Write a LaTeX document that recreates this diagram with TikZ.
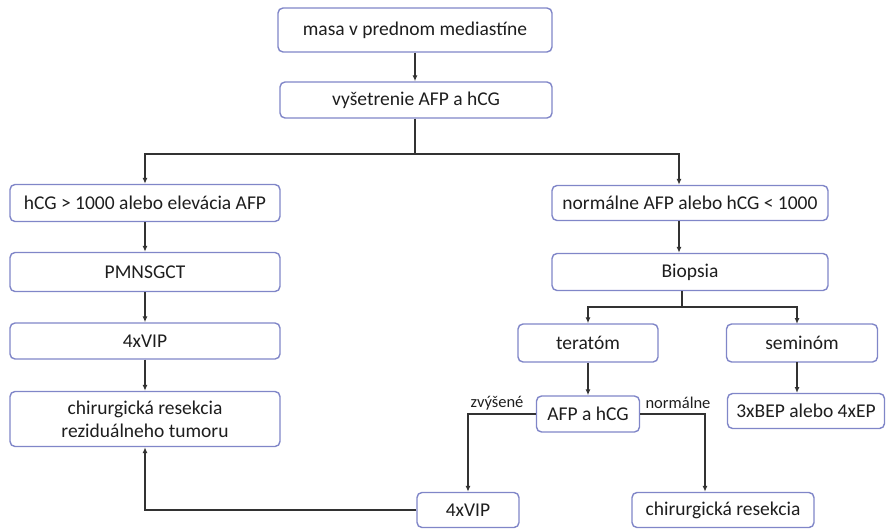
\documentclass[tikz,border=0pt]{standalone}
\usepackage{fontspec}
\setmainfont{Carlito}
\usetikzlibrary{arrows.meta}
\definecolor{boxline}{RGB}{128,134,200}
\definecolor{conn}{RGB}{50,50,50}
\definecolor{txt}{RGB}{30,30,30}
\begin{document}
\begin{tikzpicture}[x=1pt, y=-1pt,
  box/.style={draw=boxline, line width=1.4pt, rounded corners=5pt, fill=white,
    text=txt, inner sep=0pt, minimum height=#1, font=\fontsize{19.5}{23}\selectfont, align=center},
  box/.default=36pt,
  arr/.style={draw=conn, line width=1.4pt, -{Latex[length=6pt,width=5pt]}},
  ln/.style={draw=conn, line width=1.4pt},
  lbl/.style={text=txt, inner sep=0pt, font=\fontsize{16.5}{19}\selectfont}]
\useasboundingbox (0,0) rectangle (892,528);
\node[box=44pt, minimum width=274pt] (P_0_0) at (415,30) {masa v prednom mediastíne};
\node[box, minimum width=272pt] (P_0_1) at (416,100) {vyšetrenie AFP a hCG};
\coordinate (S_0) at (415,154);
\coordinate (S_1) at (679,154);
\node[box=37pt, minimum width=270pt] (P_1_0) at (145,203) {hCG > 1000 alebo elevácia AFP};
\node[box=35pt, minimum width=276pt] (P_2_0) at (690,203) {normálne AFP alebo hCG < 1000};
\draw[arr] (P_0_0) -- (P_0_0 |- P_0_1.north);
\draw[ln] (P_0_0 |- P_0_1.south) -- (S_0);
\draw[arr] (S_0) -| (P_1_0);
\draw[arr] (S_0) -- (S_1) -- (S_1 |- P_2_0.north);
\node[box=39pt, minimum width=270pt] (P_1_1) at (145,272) {PMNSGCT};
\draw[arr] (P_1_0) -- (P_1_1);
\node[box=37pt, minimum width=276pt] (P_2_1) at (690,272) {Biopsia};
\draw[arr] (S_1 |- P_2_0.south) -- (S_1 |- P_2_1.north);
\node[box, minimum width=270pt] (P_1_2) at (145,341) {4xVIP};
\draw[arr] (P_1_1) -- (P_1_2);
\node[box=55pt, minimum width=270pt] (P_1_3) at (145,419) {chirurgická resekcia\\reziduálneho tumoru};
\draw[arr] (P_1_2) -- (P_1_3);
\coordinate (S_2) at (682,307);
\node[box=38pt, minimum width=140pt] (P_2_2) at (588,343) {teratóm};
\node[box=38pt, minimum width=151pt] (P_3_2) at (802,343) {seminóm};
\draw[ln] (S_2 |- P_2_1.south) -- (S_2);
\draw[arr] (S_2) -| (P_2_2);
\draw[arr] (S_2) -- (797,307) -- (797,324);
\node[box, minimum width=103pt] (P_2_3) at (588,414) {AFP a hCG};
\draw[arr] (P_2_2) -- (P_2_3);
\node[box=35pt, minimum width=157pt] (P_3_3) at (806,411) {3xBEP alebo 4xEP};
\draw[arr] (797,362) -- (797,393);
\node[box=35pt, minimum width=102pt] (P_2_4) at (468,510) {4xVIP};
\node[box=35pt, minimum width=182pt] (P_3_4) at (723,510) {chirurgická resekcia};
\coordinate (S_3) at (705,414);
\draw[arr] (P_2_3.west) -| (P_2_4);
\draw[arr] (P_2_3.east) -- (S_3) -- (S_3 |- P_3_4.north);
\draw[arr] (P_2_4.west) -| (P_1_3);
\node[lbl] (L_0) at (497,403) {zvýšené};
\node[lbl] (L_1) at (678,403) {normálne};
\end{tikzpicture}
\end{document}
